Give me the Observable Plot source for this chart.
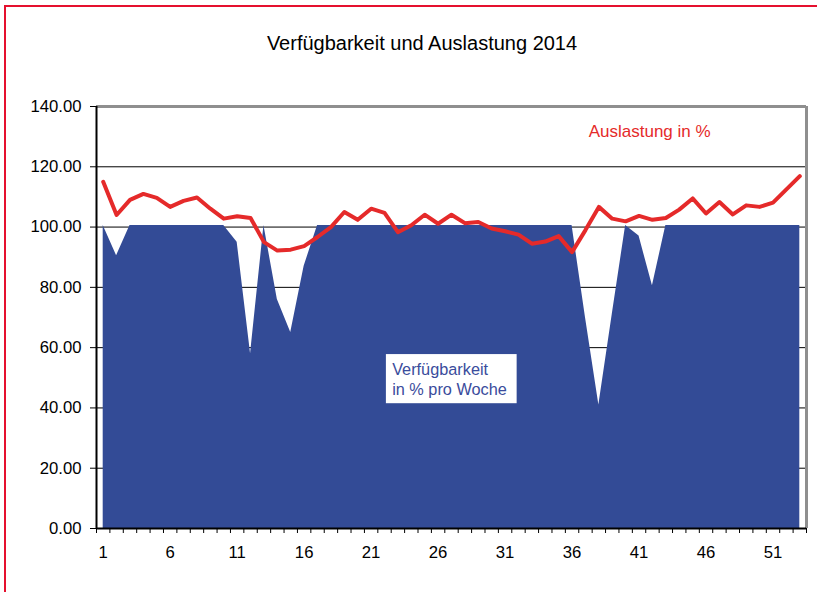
<!DOCTYPE html>
<html>
<head>
<meta charset="utf-8">
<script src="https://cdn.jsdelivr.net/npm/d3@7"></script>
<script src="https://cdn.jsdelivr.net/npm/@observablehq/plot@0.6"></script>
<style>
  html, body { margin: 0; padding: 0; background: #fff; }
  #page { position: relative; width: 817px; height: 592px; overflow: hidden; font-family: "Liberation Sans", Arial, sans-serif; }
  #frame { position: absolute; left: 4px; top: 5px; width: 900px; height: 700px; border-left: 2px solid #e5102e; border-top: 2px solid #e5102e; }
  #title { position: absolute; left: 422px; top: 32px; transform: translateX(-50%); font-size: 20px; color: #000; white-space: nowrap; line-height: 22px; }
  #chart { position: absolute; left: 0; top: 80px; }
</style>
</head>
<body>
<div id="page">
  <div id="frame"></div>
  <div id="title">Verfügbarkeit und Auslastung 2014</div>
  <div id="chart"></div>
</div>
<script>
// Weeks (categories)
const weeks = d3.range(1, 54);

// Verfügbarkeit in % pro Woche (area)
const verfuegbarkeit = [
  100.5, 90.5, 100.5, 100.5, 100.5, 100.5, 100.5, 100.5, 100.5, 100.5,
  95, 58, 100.5, 76, 65, 87, 100.5, 100.5, 100.5, 100.5,
  100.5, 100.5, 100.5, 100.5, 100.5, 100.5, 100.5, 100.5, 100.5, 100.5,
  100.5, 100.5, 100.5, 100.5, 100.5, 100.5, 70, 41, 71, 100.5,
  97, 80.5, 100.5, 100.5, 100.5, 100.5, 100.5, 100.5, 100.5, 100.5,
  100.5, 100.5, 100.5
];

// Auslastung in % (line)
const auslastung = [
  115, 104, 109, 111, 109.7, 106.7, 108.7, 109.8, 106.1, 102.8,
  103.6, 103, 95, 92.2, 92.5, 93.7, 96.7, 100, 105, 102.4,
  106.1, 104.7, 98.3, 100.6, 104.1, 101.1, 104.1, 101.3, 101.7, 99.5,
  98.6, 97.5, 94.5, 95.2, 97, 91.7, 99, 106.7, 102.8, 101.9,
  103.7, 102.4, 103, 105.8, 109.5, 104.5, 108.3, 104.2, 107.2, 106.7,
  108.1, 112.5, 116.9
];

// Axis ticks
const yTicks = [0, 20, 40, 60, 80, 100, 120, 140];
const gridValues = [20, 40, 60, 80, 100, 120];
const xTickLabels = [1, 6, 11, 16, 21, 26, 31, 36, 41, 46, 51];
const xTickMarks = d3.range(0.5, 54, 1);

// Annotation labels (in data coordinates)
const lineLabel = [{x: 37.24, y: 131.8, text: "Auslastung in %"}];
const areaLabelBox = [{x1: 22.14, x2: 31.9, y1: 41.4, y2: 57.7}];
const areaLabel = [{x: 22.57, y: 49.8, text: "Verfügbarkeit\nin % pro Woche"}];

const data = weeks.map((w, i) => ({week: w, v: verfuegbarkeit[i], a: auslastung[i]}));

const chart = Plot.plot({
  width: 817,
  height: 512,
  marginTop: 26,
  marginBottom: 64,
  marginLeft: 96,
  marginRight: 11,
  x: {domain: [0.5, 53.5]},
  y: {domain: [0, 140]},
  style: {fontFamily: "'Liberation Sans', Arial, sans-serif", fontSize: "16px", color: "#000", background: "transparent", overflow: "visible"},
  marks: [
    Plot.ruleY(gridValues, {stroke: "#000", strokeWidth: 1}),
    Plot.areaY(data, {x: "week", y: "v", fill: "#334b96"}),
    Plot.ruleY([140], {stroke: "#8f8f8f", strokeWidth: 3}),
    Plot.ruleX([53.5], {stroke: "#8f8f8f", strokeWidth: 3}),
    Plot.ruleX([0.5], {stroke: "#000", strokeWidth: 2}),
    Plot.ruleY([0], {stroke: "#000", strokeWidth: 2}),
    Plot.axisY({ticks: yTicks, tickFormat: d => d.toFixed(2), tickSize: 6, tickPadding: 9, fontSize: 16.7, label: null}),
    Plot.axisX({ticks: xTickMarks, tickFormat: () => "", tickSize: 5, label: null}),
    Plot.axisX({ticks: xTickLabels, tickFormat: d => String(d), tickSize: 0, tickPadding: 18, fontSize: 16.7, label: null}),
    Plot.lineY(data, {x: "week", y: "a", stroke: "#e52a2a", strokeWidth: 4, strokeLinejoin: "round", strokeLinecap: "round"}),
    Plot.text(lineLabel, {x: "x", y: "y", text: "text", textAnchor: "start", fill: "#e52a2a", fontSize: 17}),
    Plot.rect(areaLabelBox, {x1: "x1", x2: "x2", y1: "y1", y2: "y2", fill: "#fff"}),
    Plot.text(areaLabel, {x: "x", y: "y", text: "text", textAnchor: "start", fill: "#3a4c9c", fontSize: 16.3, lineHeight: 1.25})
  ]
});
document.getElementById("chart").appendChild(chart);
</script>
</body>
</html>
